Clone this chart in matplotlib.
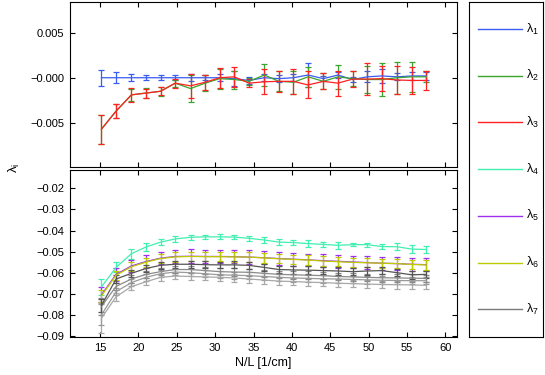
import matplotlib
matplotlib.use('Agg')
import matplotlib.pyplot as plt
import numpy as np

plt.rcParams['font.family'] = ['Liberation Sans', 'DejaVu Sans']
plt.rcParams['mathtext.fontset'] = 'custom'
plt.rcParams['mathtext.rm'] = 'Liberation Sans'
plt.rcParams['mathtext.it'] = 'Liberation Sans'

# N/L [1/cm]
nl = [15.2, 17.1, 19.1, 21.0, 22.9, 24.8, 26.8, 28.7, 30.6, 32.5, 34.4, 36.4,
      38.3, 40.2, 42.1, 44.1, 46.0, 47.9, 49.8, 51.7, 53.7, 55.6, 57.5]

# top panel: lambda_1..3
lam1 = [0.0000, 0.0000, 0.0000, 0.0000, 0.0000, 0.0000, 0.0000, 0.0000, 0.0000, -0.0001, -0.0003, 0.0000,
        -0.0001, 0.0000, 0.0003, -0.0001, 0.0003, -0.0002, 0.0001, 0.0002, 0.0001, 0.0002, 0.0002]
err1 = [0.0009, 0.0006, 0.0004, 0.0003, 0.0003, 0.0003, 0.0004, 0.0003, 0.0004, 0.0008, 0.0004, 0.0004,
        0.0004, 0.0004, 0.0013, 0.0003, 0.0003, 0.0003, 0.0006, 0.0008, 0.0004, 0.0004, 0.0004]
lam2 = [-0.0057, -0.0037, -0.0019, -0.0017, -0.0015, -0.0006, -0.0012, -0.0006, -0.0001, -0.0002, -0.0004, 0.0003,
        -0.0004, -0.0005, 0.0001, -0.0004, 0.0001, -0.0001, -0.0002, -0.0002, 0.0000, 0.0001, 0.0001]
err2 = [0.0016, 0.0008, 0.0007, 0.0006, 0.0005, 0.0004, 0.0015, 0.0009, 0.0011, 0.0010, 0.0004, 0.0012,
        0.0011, 0.0013, 0.0011, 0.0009, 0.0013, 0.0008, 0.0015, 0.0018, 0.0018, 0.0017, 0.0006]
lam3 = [-0.0057, -0.0037, -0.0019, -0.0017, -0.0015, -0.0006, -0.0009, -0.0005, 0.0000, 0.0001, -0.0006, -0.00045,
        -0.0004, -0.0004, -0.0008, -0.0004, -0.0006, -0.00015, -0.00015, -0.0001, -0.00025, -0.0003, -0.0003]
err3 = [0.0016, 0.0008, 0.00075, 0.0005, 0.00045, 0.0005, 0.0013, 0.00085, 0.0011, 0.0011, 0.00045, 0.0014,
        0.0012, 0.0014, 0.0015, 0.0009, 0.0014, 0.0009, 0.0018, 0.0014, 0.0015, 0.0015, 0.0011]

# bottom panel: lambda_4..7 (+ further gray curves)
lam4 = [-0.0667, -0.0575, -0.0510, -0.0478, -0.0455, -0.0440, -0.0432, -0.0430, -0.0430, -0.0431, -0.0437, -0.0445,
        -0.0455, -0.0457, -0.0462, -0.0466, -0.0470, -0.0467, -0.0467, -0.0476, -0.0477, -0.0488, -0.0490]
err4 = [0.0037, 0.0024, 0.0024, 0.0018, 0.0015, 0.0013, 0.0012, 0.0011, 0.0012, 0.0011, 0.0012, 0.0012,
        0.0014, 0.0012, 0.0015, 0.0013, 0.0016, 0.0008, 0.0010, 0.0014, 0.0017, 0.0019, 0.0016]
lam5 = [-0.0705, -0.0608, -0.0568, -0.0547, -0.0531, -0.0523, -0.0522, -0.0523, -0.0523, -0.0524, -0.0526, -0.0529,
        -0.0533, -0.0536, -0.0539, -0.0543, -0.0546, -0.0549, -0.0552, -0.0555, -0.0557, -0.0560, -0.0562]
err5 = [0.0035, 0.0030, 0.0030, 0.0030, 0.0030, 0.0032, 0.0032, 0.0032, 0.0032, 0.0032, 0.0032, 0.0030,
        0.0030, 0.0030, 0.0030, 0.0030, 0.0030, 0.0030, 0.0030, 0.0030, 0.0030, 0.0030, 0.0030]
lam6 = [-0.0710, -0.0612, -0.0572, -0.0550, -0.0533, -0.0525, -0.0523, -0.0524, -0.0524, -0.0525, -0.0526, -0.0530,
        -0.0534, -0.0537, -0.0540, -0.0545, -0.0548, -0.0551, -0.0553, -0.0555, -0.0557, -0.0561, -0.0563]
err6 = [0.0030, 0.0022, 0.0022, 0.0022, 0.0022, 0.0022, 0.0022, 0.0022, 0.0022, 0.0022, 0.0022, 0.0022,
        0.0022, 0.0022, 0.0022, 0.0022, 0.0022, 0.0022, 0.0022, 0.0022, 0.0022, 0.0022, 0.0022]
lam7 = [-0.0755, -0.0630, -0.0603, -0.0580, -0.0565, -0.0560, -0.0560, -0.0562, -0.0563, -0.0563, -0.0565, -0.0575,
        -0.0585, -0.0587, -0.0588, -0.0590, -0.0592, -0.0595, -0.0592, -0.0590, -0.0600, -0.0610, -0.0608]
lam8 = [-0.0760, -0.0665, -0.0630, -0.0608, -0.0595, -0.0585, -0.0585, -0.0590, -0.0595, -0.0597, -0.0598, -0.0603,
        -0.0608, -0.0610, -0.0612, -0.0614, -0.0618, -0.0620, -0.0622, -0.0624, -0.0625, -0.0626, -0.0627]
lam9 = [-0.0800, -0.0690, -0.0647, -0.0622, -0.0605, -0.0597, -0.0600, -0.0605, -0.0610, -0.0612, -0.0614, -0.0618,
        -0.0622, -0.0625, -0.0627, -0.0629, -0.0630, -0.0632, -0.0634, -0.0636, -0.0637, -0.0638, -0.0638]
lam10 = [-0.0816, -0.0714, -0.0666, -0.0643, -0.0622, -0.0616, -0.0618, -0.0620, -0.0622, -0.0625, -0.0630, -0.0635,
         -0.0640, -0.0642, -0.0645, -0.0647, -0.0650, -0.0652, -0.0654, -0.0656, -0.0657, -0.0658, -0.0660]
err_gray = [0.0025, 0.0018, 0.0017, 0.0016, 0.0016, 0.0016, 0.0016, 0.0016, 0.0016, 0.0017, 0.0017, 0.0017,
            0.0018, 0.0018, 0.0018, 0.0018, 0.0018, 0.0018, 0.0018, 0.0018, 0.0018, 0.0018, 0.0018]
err_gray_first = [0.003, 0.004, 0.005, 0.007]

colors = ['#3a5cf0', '#3aa52c', '#ff2020', '#40f0b0', '#a030f0', '#bccc00', '#7a7a7a']
grays = ['#555555', '#8a8a8a', '#9a9a9a', '#a8a8a8']

top_ticks = [0.005, 0.0, -0.005]
top_labels = ['0.005', '\u22120.000', '\u22120.005']
bot_ticks = [-0.02, -0.03, -0.04, -0.05, -0.06, -0.07, -0.08, -0.09]
bot_labels = ['\u22120.0%d' % k for k in range(2, 10)]
x_ticks = [15, 20, 25, 30, 35, 40, 45, 50, 55, 60]

fig = plt.figure(figsize=(5.45, 3.75), dpi=100)
ax1 = fig.add_axes([70 / 545, 1 - 167 / 375, 387 / 545, 165 / 375])
ax2 = fig.add_axes([70 / 545, 1 - 337 / 375, 387 / 545, 167 / 375])
axl = fig.add_axes([469 / 545, 1 - 337 / 375, 74 / 545, 335 / 375])

eb = dict(capsize=2.5, elinewidth=0.9, lw=0.9, capthick=0.9)
ax1.errorbar(nl, lam1, yerr=err1, color=colors[0], **eb)
ax1.errorbar(nl, lam2, yerr=err2, color=colors[1], **eb)
ax1.errorbar(nl, lam3, yerr=err3, color=colors[2], **eb)

ax2.errorbar(nl, lam4, yerr=err4, color=colors[3], **eb)
ax2.errorbar(nl, lam5, yerr=err5, color=colors[4], **eb)
ax2.errorbar(nl, lam6, yerr=err6, color=colors[5], **eb)
for i, series in enumerate([lam10, lam9, lam8, lam7]):
    e = list(err_gray)
    e[0] = err_gray_first[3 - i]
    ax2.errorbar(nl, series, yerr=e, color=grays[3 - i], **eb)

for ax in (ax1, ax2):
    ax.set_xlim(11.1, 61.5)
    ax.set_xticks(x_ticks)
    ax.tick_params(direction='in', length=3.5, width=0.8, labelsize=8,
                   top=True, right=True, pad=4)
    for s in ax.spines.values():
        s.set_linewidth(0.8)
ax1.set_ylim(-0.0099, 0.0084)
ax1.set_yticks(top_ticks)
ax1.set_yticklabels(top_labels)
ax1.set_xticklabels([])
ax2.set_ylim(-0.0905, -0.0113)
ax2.set_yticks(bot_ticks)
ax2.set_yticklabels(bot_labels)
ax2.set_xlabel('N/L [1/cm]', fontsize=9, labelpad=3)
fig.text(14 / 545, 1 - 168 / 375, r'$\lambda_\mathrm{i}$', rotation=90,
         fontsize=9.5, ha='center', va='center')

# legend panel
axl.set_xlim(0, 1)
axl.set_ylim(0, 1)
axl.set_xticks([])
axl.set_yticks([])
for s in axl.spines.values():
    s.set_linewidth(0.8)
for i, c in enumerate(colors):
    ypos = (337 - (29 + i * 46.7)) / 335
    axl.plot([0.12, 0.71], [ypos, ypos], color=c, lw=1)
    axl.text(0.77, ypos, r'$\lambda_%d$' % (i + 1), fontsize=9, va='center', ha='left')

fig.savefig('out.png', dpi=100)
